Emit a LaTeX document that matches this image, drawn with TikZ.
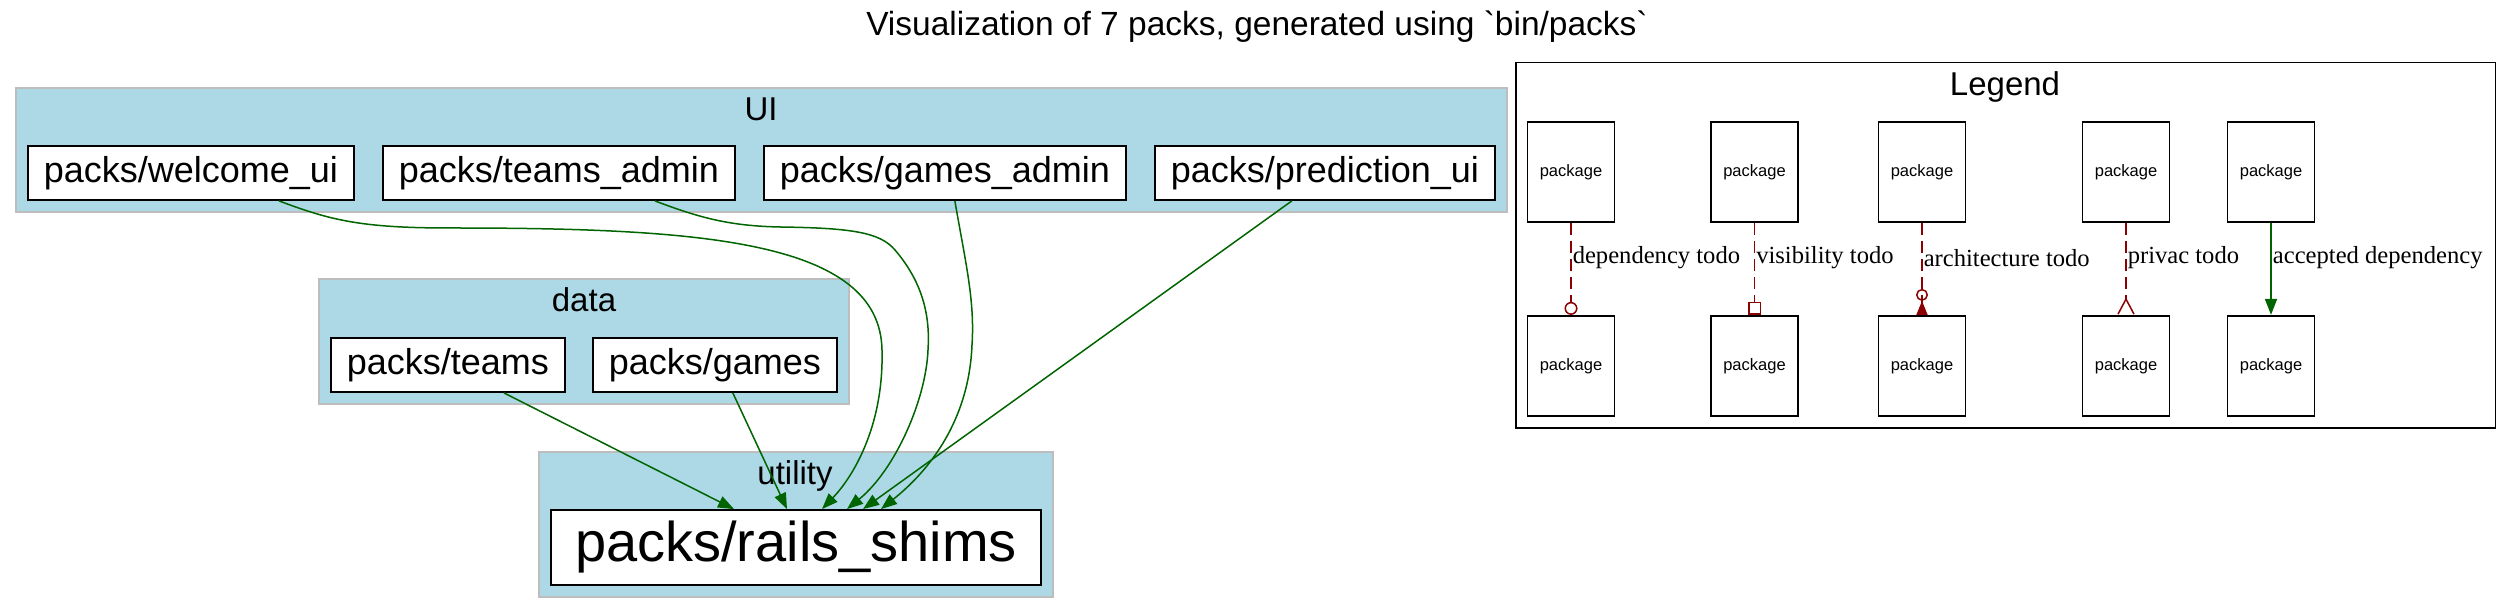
\documentclass[tikz,border=0pt]{standalone}
\usepackage{fontspec}
\setmainfont{Liberation Sans}
\newfontfamily\edgefont{Liberation Serif}
\usetikzlibrary{positioning,fit,calc,backgrounds,arrows.meta}
\definecolor{clusterblue}{HTML}{ADD8E6}
\definecolor{clusterline}{HTML}{BDBDBD}
\definecolor{depgreen}{HTML}{006400}
\definecolor{todored}{HTML}{8B0000}

\begin{document}
\begin{tikzpicture}[x=0.5pt, y=-0.5pt,
  pkg/.style = {draw, fill=white, line width=0.9pt, inner xsep=8pt,
    minimum height=27pt, font=\fontsize{18}{21}\selectfont},
  bigpkg/.style = {pkg, inner xsep=12pt, minimum height=37.5pt,
    font=\fontsize{28}{33}\selectfont},
  legendpkg/.style = {draw, line width=0.9pt, minimum width=43.5pt,
    minimum height=50pt, inner sep=0pt, font=\fontsize{8.25}{10}\selectfont},
  cluster/.style = {draw=clusterline, fill=clusterblue, line width=1pt, inner sep=5.5pt},
  legendbox/.style = {draw, line width=0.9pt, inner sep=5.5pt},
  clusterlabel/.style = {inner sep=0pt, text height=11pt, text depth=0pt,
    font=\fontsize{16.5}{20}\selectfont},
  dep/.style = {draw=depgreen, line width=0.75pt, -{Triangle[length=8pt,width=6pt]}},
  todo/.style = {draw=todored, line width=0.75pt, dash pattern=on 6pt off 3pt},
  edgelabel/.style = {font=\edgefont\fontsize{12.3}{14}\selectfont, anchor=west,
    inner sep=0.5pt, pos=0.38, text=black}]
  \useasboundingbox (0,0) rectangle (2513,613);

  \node (title) at (1257,27) {\fontsize{16.75}{20}\selectfont Visualization of 7 packs, generated using \textasciigrave bin/packs\textasciigrave};

  % UI
  \node[pkg, anchor=west] (welcome) at (27,173) {packs/welcome\_ui};
  \node[pkg, right=13.5pt of welcome] (teamsadmin) {packs/teams\_admin};
  \node[pkg, right=13.5pt of teamsadmin] (gamesadmin) {packs/games\_admin};
  \node[pkg, right=13.5pt of gamesadmin] (predictionui) {packs/prediction\_ui};
  \node[clusterlabel] (uilabel) at (761,110) {UI};

  % data
  \node[pkg, anchor=west] (teams) at (330,365) {packs/teams};
  \node[pkg, right=13pt of teams] (games) {packs/games};
  \node[clusterlabel] (datalabel) at (584,301) {data};

  % utility
  \node[bigpkg] (railsshims) at (796,547.5) {packs/rails\_shims};
  \node[clusterlabel] (utilitylabel) at (795,474) {utility};

  \begin{scope}[on background layer]
    \node[cluster, fit=(uilabel)(welcome)(predictionui)] (ui) {};
    \node[cluster, fit=(datalabel)(teams)(games)] (data) {};
    \node[cluster, fit=(utilitylabel)(railsshims)] (utility) {};
  \end{scope}

  % dependencies
  \draw[dep] ($(welcome.south)+(88,0)$) .. controls (330,220) and (360,228) .. (450,228)
    .. controls (700,228) and (880,240) .. (882,350)
    .. controls (884,430) and (850,480) .. ($(railsshims.north)+(26,0)$);
  \draw[dep] ($(teamsadmin.south)+(96,0)$) .. controls (700,218) and (730,226) .. (780,227)
    .. controls (850,228) and (880,232) .. (895,250)
    .. controls (925,285) and (930,320) .. (928,350)
    .. controls (926,400) and (895,470) .. ($(railsshims.north)+(51,0)$);
  \draw[dep] ($(gamesadmin.south)+(10,0)$) .. controls (965,260) and (975,300) .. (972,345)
    .. controls (969,420) and (930,470) .. ($(railsshims.north)+(85,0)$);
  \draw[dep] ($(predictionui.south)+(-33,0)$) -- ($(railsshims.north)+(67,0)$);
  \draw[dep] ($(teams.south)+(56,0)$) -- ($(railsshims.north)+(-62,0)$);
  \draw[dep] ($(games.south)+(18,0)$) -- ($(railsshims.north)+(-9,0)$);

  % legend
  \node[clusterlabel] (legendlabel) at (2005,85) {Legend};
  \node[legendpkg] (pkgA1) at (1571,172) {package};
  \node[legendpkg, below=46pt of pkgA1] (pkgA2) {package};
  \node[legendpkg] (pkgB1) at (1754.5,172) {package};
  \node[legendpkg, below=46pt of pkgB1] (pkgB2) {package};
  \node[legendpkg] (pkgC1) at (1922,172) {package};
  \node[legendpkg, below=46pt of pkgC1] (pkgC2) {package};
  \node[legendpkg] (pkgD1) at (2126,172) {package};
  \node[legendpkg, below=46pt of pkgD1] (pkgD2) {package};
  \node[legendpkg] (pkgE1) at (2271,172) {package};
  \node[legendpkg, below=46pt of pkgE1] (pkgE2) {package};

  \draw[todo, -{Circle[open,length=6.5pt]}] (pkgA1) -- node[edgelabel] (lblA) {dependency todo} (pkgA2);
  \draw[todo, -{Square[open,length=6.5pt]}] (pkgB1) -- node[edgelabel] (lblB) {visibility todo} (pkgB2);
  \draw[todo, -{Circle[open,length=6pt] Triangle[reversed,length=7pt,width=5.5pt]}] (pkgC1) -- node[edgelabel] (lblC) {architecture todo} (pkgC2);
  \draw[todo, -{Straight Barb[reversed,length=7.5pt,width=8pt]}] (pkgD1) -- node[edgelabel] (lblD) {privac todo} (pkgD2);
  \draw[dep, line width=0.9pt] (pkgE1) -- node[edgelabel] (lblE) {accepted dependency} (pkgE2);

  \begin{scope}[on background layer]
    \node[legendbox, fit=(legendlabel)(pkgA1)(pkgA2)(lblE)] (legend) {};
  \end{scope}
\end{tikzpicture}
\end{document}
